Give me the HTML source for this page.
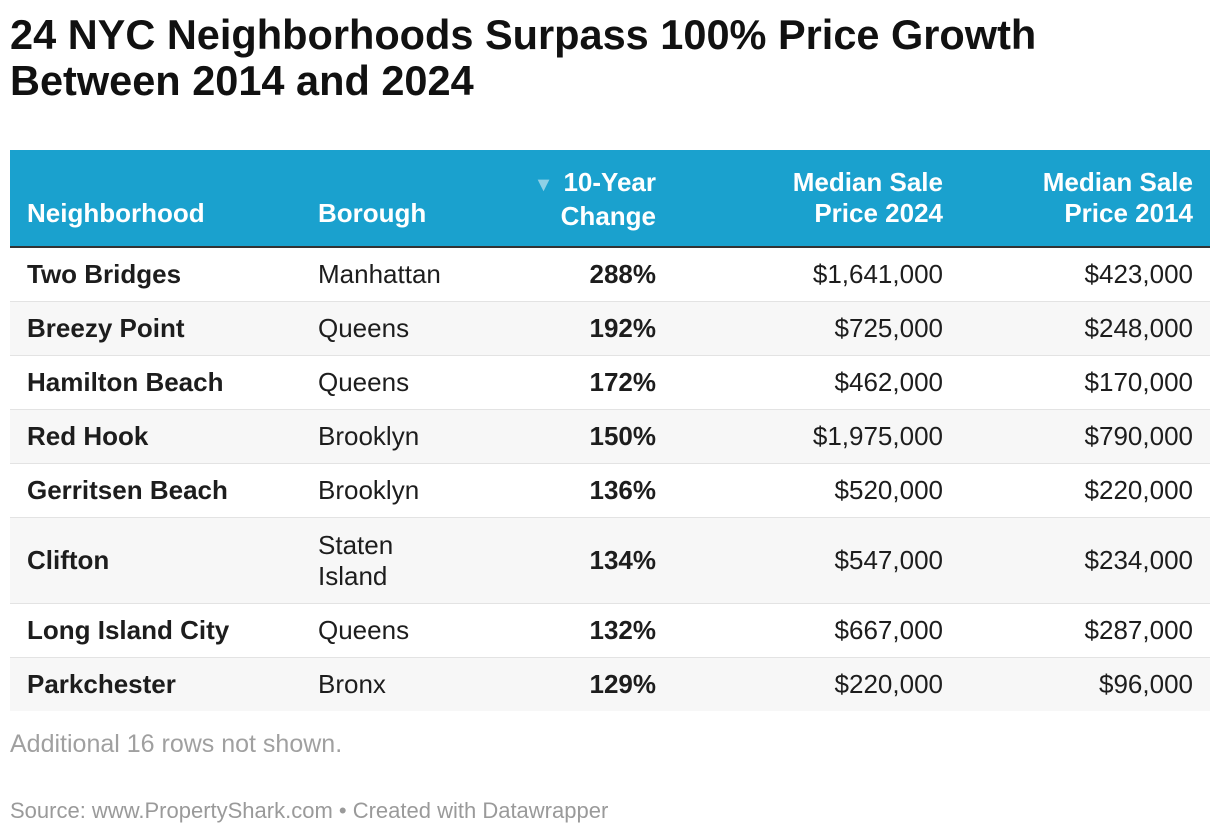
<!DOCTYPE html>
<html><head><meta charset="utf-8">
<style>
body{margin:0;width:1220px;height:836px;background:#fff;font-family:"Liberation Sans",sans-serif;color:#1d1d1d;position:relative;overflow:hidden}
.abs{position:absolute;white-space:nowrap}
#title{left:10px;top:12px;font-size:41.5px;font-weight:bold;line-height:46px;color:#111;letter-spacing:0}
#header{left:10px;top:150px;width:1200px;height:96px;background:#1aa1ce}
#header-line{left:10px;top:246px;width:1200px;height:2px;background:#333}
.h{color:#fff;font-weight:bold;font-size:26px;line-height:31px;letter-spacing:0}
.row{left:10px;width:1200px}
.cell{font-size:26px;letter-spacing:0;line-height:31px}
.b{font-weight:bold}
.r{text-align:right}
#note{left:10px;top:730px;font-size:25px;color:#a0a0a0;letter-spacing:0}
#source{left:10px;top:798px;font-size:22px;color:#9a9a9a;letter-spacing:0}
</style></head><body>
<div class="abs" id="title">24 NYC Neighborhoods Surpass 100% Price Growth<br>Between 2014 and 2024</div>
<div class="abs" id="header"></div>
<div class="abs" id="header-line"></div>
<div class="abs h" style="left:27px;top:198px">Neighborhood</div>
<div class="abs h" style="left:318px;top:198px">Borough</div>
<div class="abs h r" style="right:564px;top:167px"><span style="color:#8fd0e6;font-size:20px;margin-right:10px">▼</span>10-Year<br>Change</div>
<div class="abs h r" style="right:277px;top:167px">Median Sale<br>Price 2024</div>
<div class="abs h r" style="right:27px;top:167px">Median Sale<br>Price 2014</div>
<div id="rows"></div>
<div class="abs" id="note">Additional 16 rows not shown.</div>
<div class="abs" id="source">Source: www.PropertyShark.com • Created with Datawrapper</div>
<script>
const neighborhoods=["Two Bridges","Breezy Point","Hamilton Beach","Red Hook","Gerritsen Beach","Clifton","Long Island City","Parkchester"];
const boroughs=["Manhattan","Queens","Queens","Brooklyn","Brooklyn","Staten<br>Island","Queens","Bronx"];
const changes=["288%","192%","172%","150%","136%","134%","132%","129%"];
const prices2024=["$1,641,000","$725,000","$462,000","$1,975,000","$520,000","$547,000","$667,000","$220,000"];
const prices2014=["$423,000","$248,000","$170,000","$790,000","$220,000","$234,000","$287,000","$96,000"];
const container=document.getElementById('rows');
let y=248;
neighborhoods.forEach((n,i)=>{
  const h=boroughs[i].includes('<br>')?86:54;
  const row=document.createElement('div');
  
  
  row.className='abs row';
  row.style.top=y+'px';row.style.height=(h-1)+'px';
  row.style.background=i%2?'#f7f7f7':'#fff';
  if(i<neighborhoods.length-1)row.style.borderBottom='1px solid #e3e3e3';
  container.appendChild(row);
  const ty=y+(h-1)/2-15.5;
  const cells=[[n,'left:27px','b','neighborhood-cell'],[boroughs[i],'left:318px','','borough-cell'],[changes[i],'right:564px','b r','change-cell'],[prices2024[i],'right:277px','r','price-2024-cell'],[prices2014[i],'right:27px','r','price-2014-cell']];
  cells.forEach(c=>{
    const d=document.createElement('div');
    
    
    d.className='abs cell '+c[2];
    d.innerHTML=c[0];
    const multi=c[0].includes('<br>');
    d.style.cssText+=c[1]+';top:'+(multi?ty-15.5:ty)+'px';
    container.appendChild(d);
  });
  y+=h;
});
</script>
</body></html>
